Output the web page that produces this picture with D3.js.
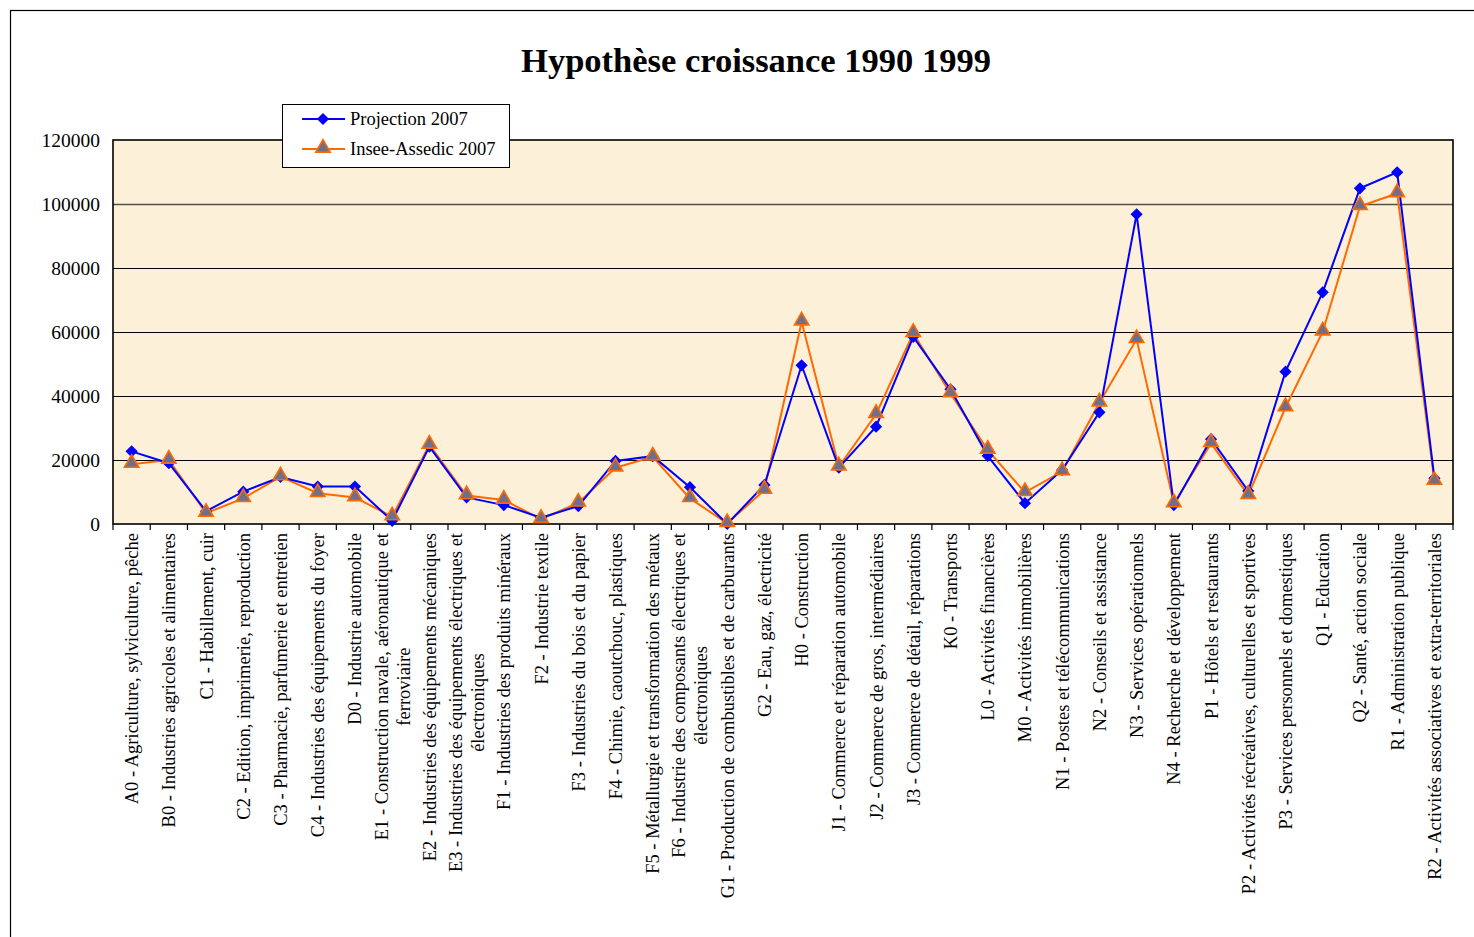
<!DOCTYPE html>
<html>
<head>
<meta charset="utf-8">
<script src="https://cdn.jsdelivr.net/npm/d3@7"></script>
<style>
  body { margin: 0; background: #fff; }
  svg { display: block; font-family: "Liberation Serif", "Times New Roman", serif; }
</style>
</head>
<body>
<div id="chart"></div>
<script>
// Categories (line breaks as in the original labels)
const categories = [
    "A0 - Agriculture, sylviculture, pêche",
    "B0 - Industries agricoles et alimentaires",
    "C1 - Habillement, cuir",
    "C2 - Edition, imprimerie, reproduction",
    "C3 - Pharmacie, parfumerie et entretien",
    "C4 - Industries des équipements du foyer",
    "D0 - Industrie automobile",
    "E1 - Construction navale, aéronautique et\nferroviaire",
    "E2 - Industries des équipements mécaniques",
    "E3 - Industries des équipements électriques et\nélectroniques",
    "F1 - Industries des produits minéraux",
    "F2 - Industrie textile",
    "F3 - Industries du bois et du papier",
    "F4 - Chimie, caoutchouc, plastiques",
    "F5 - Métallurgie et transformation des métaux",
    "F6 - Industrie des composants électriques et\nélectroniques",
    "G1 - Production de combustibles et de carburants",
    "G2 - Eau, gaz, électricité",
    "H0 - Construction",
    "J1 - Commerce et réparation automobile",
    "J2 - Commerce de gros, intermédiaires",
    "J3 - Commerce de détail, réparations",
    "K0 - Transports",
    "L0 - Activités financières",
    "M0 - Activités immobilières",
    "N1 - Postes et télécommunications",
    "N2 - Conseils et assistance",
    "N3 - Services opérationnels",
    "N4 - Recherche et développement",
    "P1 - Hôtels et restaurants",
    "P2 - Activités récréatives, culturelles et sportives",
    "P3 - Services personnels et domestiques",
    "Q1 - Education",
    "Q2 - Santé, action sociale",
    "R1 - Administration publique",
    "R2 - Activités associatives et extra-territoriales"
];

const projection2007 = [
    22700, 19000, 4000, 10100, 14700, 11700, 11700, 1000, 24200, 8300,
    5900, 2000, 5600, 19700, 21200, 11500, 0, 12200, 49600, 17600,
    30400, 58500, 42100, 21300, 6500, 16900, 34900, 96800, 5900, 26500,
    10300, 47600, 72400, 104900, 109900, 14300
];

const insee2007 = [
    18700, 20000, 3400, 8000, 14800, 9600, 8300, 2300, 24700, 8900,
    7500, 1500, 6600, 17600, 21000, 8000, 200, 10600, 63200, 17900,
    34300, 59600, 40800, 23100, 9900, 16400, 37900, 57700, 6400, 25200,
    9000, 36400, 60100, 99300, 103300, 13400
];

const yTicks = [0, 20000, 40000, 60000, 80000, 100000, 120000];
const seriesNames = ["Projection 2007", "Insee-Assedic 2007"];

const width = 1474, height = 937;
const margin = { left: 113, right: 21, top: 140, bottom: 413 };
const plotW = width - margin.left - margin.right;
const plotH = height - margin.top - margin.bottom;

const svg = d3.select("#chart").append("svg")
    .attr("width", width)
    .attr("height", height);

// outer chart frame (runs off the page at right and bottom)
svg.append("rect")
    .attr("x", 10.5).attr("y", 10.5)
    .attr("width", width).attr("height", height)
    .attr("fill", "#fff")
    .attr("stroke", "#000")
    .attr("stroke-width", 1.2);

// title
svg.append("text")
    .attr("x", 756)
    .attr("y", 72)
    .attr("text-anchor", "middle")
    .attr("font-size", 34.5)
    .attr("font-weight", "bold")
    .text("Hypothèse croissance 1990 1999");

const codes = categories.map(c => c.split(" - ")[0]);

const x = d3.scaleBand()
    .domain(codes)
    .range([margin.left, margin.left + plotW]);

const y = d3.scaleLinear()
    .domain([0, 120000])
    .range([margin.top + plotH, margin.top]);

// plot background
svg.append("rect")
    .attr("x", margin.left).attr("y", margin.top)
    .attr("width", plotW).attr("height", plotH)
    .attr("fill", "#fcf0d8");

// gridlines (half-pixel offset keeps them crisp)
svg.append("g")
    .selectAll("line")
    .data(yTicks.slice(1, -1))
    .enter()
    .append("line")
    .attr("x1", margin.left).attr("x2", margin.left + plotW)
    .attr("y1", d => y(d) + 0.5).attr("y2", d => y(d) + 0.5)
    .attr("stroke", d => d === 100000 ? "#555049" : "#000")
    .attr("stroke-width", d => d === 100000 ? 1.6 : 1);

// plot border
svg.append("rect")
    .attr("x", margin.left).attr("y", margin.top)
    .attr("width", plotW).attr("height", plotH)
    .attr("fill", "none")
    .attr("stroke", "#000")
    .attr("stroke-width", 1.6);

// y axis labels
const yAxis = svg.append("g")
    .attr("transform", `translate(${margin.left},0)`)
    .call(d3.axisLeft(y).tickValues(yTicks).tickSize(0).tickPadding(13).tickFormat(d3.format("d")));
yAxis.select(".domain").remove();
yAxis.selectAll("text")
    .attr("font-family", "Liberation Serif, serif")
    .attr("font-size", 19.5)
    .attr("fill", "#000");

// x axis ticks at category boundaries
const bounds = codes.map(c => x(c)).concat([x.range()[1]]);
svg.append("g")
    .selectAll("line")
    .data(bounds)
    .enter()
    .append("line")
    .attr("x1", d => d).attr("x2", d => d)
    .attr("y1", margin.top + plotH).attr("y2", margin.top + plotH + 6)
    .attr("stroke", "#000")
    .attr("stroke-width", 1.2);

// x labels, rotated, multi-line centred
const lineH = 22;
const labelTop = margin.top + plotH + 9;
categories.forEach((label, i) => {
    const lines = label.split("\n");
    const xc = x(codes[i]) + x.bandwidth() / 2;
    const g = svg.append("g")
        .attr("transform", `translate(${xc},${labelTop}) rotate(-90)`);
    const texts = lines.map((ln, j) => g.append("text")
        .attr("y", (j - (lines.length - 1) / 2) * lineH)
        .attr("dy", "0.35em")
        .attr("font-size", 18.5)
        .attr("text-anchor", "middle")
        .text(ln));
    const w = d3.max(texts, t => t.node().getComputedTextLength());
    texts.forEach(t => t.attr("x", -w / 2));
});

// lines
const line = d3.line()
    .x((d, i) => x(codes[i]) + x.bandwidth() / 2)
    .y(d => y(d));

svg.append("path")
    .datum(insee2007)
    .attr("d", line)
    .attr("fill", "none")
    .attr("stroke", "#ff6a00")
    .attr("stroke-width", 2);

svg.append("path")
    .datum(projection2007)
    .attr("d", line)
    .attr("fill", "none")
    .attr("stroke", "#0000ff")
    .attr("stroke-width", 2);

const diamond = d3.symbol().type(d3.symbolDiamond2).size(95);
const triangle = d3.symbol().type(d3.symbolTriangle).size(90);

svg.append("g")
    .selectAll("path")
    .data(projection2007)
    .enter()
    .append("path")
    .attr("d", diamond)
    .attr("transform", (d, i) => `translate(${x(codes[i]) + x.bandwidth() / 2},${y(d)})`)
    .attr("fill", "#0000ff");

svg.append("g")
    .selectAll("path")
    .data(insee2007)
    .enter()
    .append("path")
    .attr("d", triangle)
    .attr("transform", (d, i) => `translate(${x(codes[i]) + x.bandwidth() / 2},${y(d) - 1})`)
    .attr("fill", "#6f6f8a")
    .attr("stroke", "#ff6a00")
    .attr("stroke-width", 1.6);

// legend
const legend = svg.append("g").attr("transform", "translate(282,104)");
legend.append("rect")
    .attr("x", 0.5).attr("y", 0.5)
    .attr("width", 227).attr("height", 63)
    .attr("fill", "#fff")
    .attr("stroke", "#000");

seriesNames.forEach((name, i) => {
    const ly = 15 + i * 30;
    const col = i === 0 ? "#0000ff" : "#ff6a00";
    legend.append("line")
        .attr("x1", 20).attr("x2", 63)
        .attr("y1", ly).attr("y2", ly)
        .attr("stroke", col)
        .attr("stroke-width", 2);
    if (i === 0) {
        legend.append("path")
            .attr("d", diamond)
            .attr("transform", `translate(41,${ly})`)
            .attr("fill", "#0000ff");
    } else {
        legend.append("path")
            .attr("d", triangle)
            .attr("transform", `translate(41,${ly - 1})`)
            .attr("fill", "#6f6f8a")
            .attr("stroke", "#ff6a00")
            .attr("stroke-width", 1.6);
    }
    legend.append("text")
        .attr("x", 68)
        .attr("y", ly)
        .attr("dy", "0.35em")
        .attr("font-size", 18.5)
        .text(name);
});
</script>
</body>
</html>
